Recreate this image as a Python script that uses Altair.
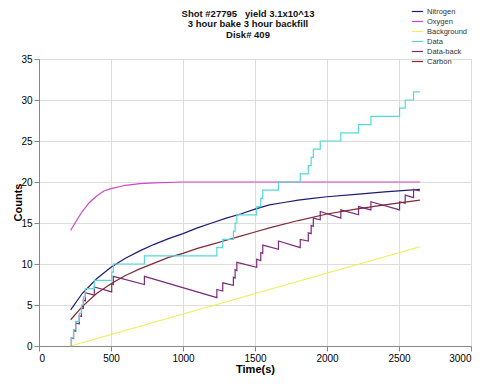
import altair as alt
import pandas as pd

series_order = ["Nitrogen", "Oxygen", "Background", "Data", "Data-back", "Carbon"]
series_colors = ["#1c1c78", "#d446c8", "#eeee55", "#55d8d8", "#7c2a7c", "#7e2a36"]

nitrogen_t = [220, 300, 400, 500, 600, 700, 800, 900, 1000, 1100, 1200, 1300, 1400, 1500, 1600, 1700, 1800, 1900, 2000, 2200, 2400, 2645]
nitrogen_v = [4.4, 6.4, 8.2, 9.6, 10.7, 11.6, 12.4, 13.1, 13.7, 14.4, 15.0, 15.6, 16.1, 16.7, 17.2, 17.5, 17.8, 18.0, 18.2, 18.5, 18.8, 19.1]

oxygen_t = [220, 250, 300, 350, 400, 450, 500, 600, 700, 800, 1000, 1200, 2645]
oxygen_v = [14.1, 15.0, 16.4, 17.5, 18.3, 18.9, 19.2, 19.6, 19.8, 19.9, 20.0, 20.0, 20.0]

background_t = [220, 2645]
background_v = [0.0, 12.1]

carbon_t = [220, 300, 400, 500, 600, 700, 800, 900, 1000, 1100, 1200, 1300, 1400, 1500, 1600, 1800, 2000, 2200, 2400, 2645]
carbon_v = [3.2, 4.8, 6.4, 7.6, 8.6, 9.4, 10.1, 10.8, 11.3, 11.9, 12.4, 12.9, 13.4, 13.9, 14.4, 15.3, 16.1, 16.7, 17.2, 17.8]

data_t = [220, 225, 240, 255, 280, 295, 308, 322, 384, 505, 516, 732, 1235, 1276, 1350, 1362, 1374, 1512, 1540, 1554, 1663, 1814, 1870, 1890, 1905, 1953, 2096, 2219, 2305, 2504, 2543, 2601, 2645]
data_v = [0, 1, 2, 3, 4, 5, 6, 7, 8, 9, 10, 11, 12, 13, 14, 15, 16, 17, 18, 19, 20, 21, 22, 23, 24, 25, 26, 27, 28, 29, 30, 31, 31]

databack_t = [220, 225, 225, 240, 240, 255, 255, 280, 280, 295, 295, 308, 308, 322, 322, 384, 384, 505, 505, 516, 516, 732, 732,
              1235, 1235, 1276, 1276, 1350, 1350, 1362, 1362, 1374, 1374, 1512, 1512, 1540, 1540, 1554, 1554, 1663, 1663,
              1814, 1814, 1870, 1870, 1890, 1890, 1905, 1905, 1953, 1953, 2096, 2096, 2219, 2219, 2305, 2305, 2504, 2504,
              2543, 2543, 2601, 2601, 2645]
databack_v = [0, 0.0, 1.0, 0.9, 1.9, 1.8, 2.8, 2.7, 3.7, 3.6, 4.6, 4.6, 5.6, 5.5, 6.5, 6.2, 7.2, 6.6, 7.6, 7.5, 8.5, 7.5, 8.5,
              5.9, 6.9, 6.7, 7.7, 7.4, 8.4, 8.3, 9.3, 9.2, 10.2, 9.6, 10.6, 10.4, 11.4, 11.3, 12.3, 11.8, 12.8,
              12.0, 13.0, 12.8, 13.8, 13.7, 14.7, 14.6, 15.6, 15.4, 16.4, 15.6, 16.6, 16.0, 17.0, 16.6, 17.6, 16.6, 17.6,
              17.4, 18.4, 18.1, 19.1, 18.9]

x_ticks = [0, 500, 1000, 1500, 2000, 2500, 3000]
y_ticks = [0, 5, 10, 15, 20, 25, 30, 35]
title_lines = ["Shot #27795\u00a0\u00a0 yield 3.1x10^13", "3 hour bake 3 hour backfill", "Disk# 409"]


def rows(name, ts, vs):
    return [{"series": name, "t": t, "v": v, "i": k} for k, (t, v) in enumerate(zip(ts, vs))]


lin_df = pd.DataFrame(
    rows("Nitrogen", nitrogen_t, nitrogen_v)
    + rows("Oxygen", oxygen_t, oxygen_v)
    + rows("Background", background_t, background_v)
    + rows("Data-back", databack_t, databack_v)
    + rows("Carbon", carbon_t, carbon_v)
)
step_df = pd.DataFrame(rows("Data", data_t, data_v))

FONT = "Liberation Sans"

x_enc = alt.X(
    "t:Q",
    scale=alt.Scale(domain=[0, 3000], nice=False),
    axis=alt.Axis(values=x_ticks, title="Time(s)", format="d", titleY=23, titleBaseline="middle"),
)
y_enc = alt.Y(
    "v:Q",
    scale=alt.Scale(domain=[0, 35], nice=False),
    axis=alt.Axis(values=y_ticks, title="Counts", titleX=-21, titleY=143, titleAngle=-90,
                  titleAlign="center", titleBaseline="middle"),
)
color_enc = alt.Color(
    "series:N",
    scale=alt.Scale(domain=series_order, range=series_colors),
    legend=alt.Legend(title=None, orient="none", legendX=372, legendY=-54, symbolType="stroke",
                      symbolSize=130, symbolStrokeWidth=1.2, labelFontSize=7.5, labelFont=FONT,
                      labelColor="#333", rowPadding=0, labelOffset=3),
)

lines = alt.Chart(lin_df).mark_line(strokeWidth=1.2).encode(
    x=x_enc, y=y_enc, color=color_enc, order=alt.Order("i:Q"), detail="series:N"
)
steps = alt.Chart(step_df).mark_line(strokeWidth=1.2, interpolate="step-after").encode(
    x=x_enc, y=y_enc, color=color_enc, order=alt.Order("i:Q")
)

title_layers = []
for k, line in enumerate(title_lines):
    title_layers.append(
        alt.Chart(pd.DataFrame({"s": [line]}))
        .mark_text(font=FONT, fontSize=9.5, fontWeight="bold", color="#111", align="center", baseline="middle")
        .encode(text="s:N", x=alt.value(209), y=alt.value(-45 + 10.3 * k))
    )

chart = (
    alt.layer(lines, steps, *title_layers)
    .properties(
        width=432,
        height=287,
        autosize=alt.AutoSizeParams(type="none"),
        padding={"left": 31, "top": 51, "right": 21, "bottom": 34},
    )
    .configure_view(stroke=None)
    .configure_axis(
        grid=False,
        domainColor="#888",
        tickColor="#888",
        tickSize=3,
        labelFont=FONT,
        labelFontSize=6.5,
        labelColor="#333",
        labelPadding=2,
        titleFont=FONT,
        titleFontSize=10,
        titleFontWeight="bold",
        titleColor="#111",
    )
    .configure(background="white")
)

chart.save("out.html", embed_options={"renderer": "svg", "actions": False})
